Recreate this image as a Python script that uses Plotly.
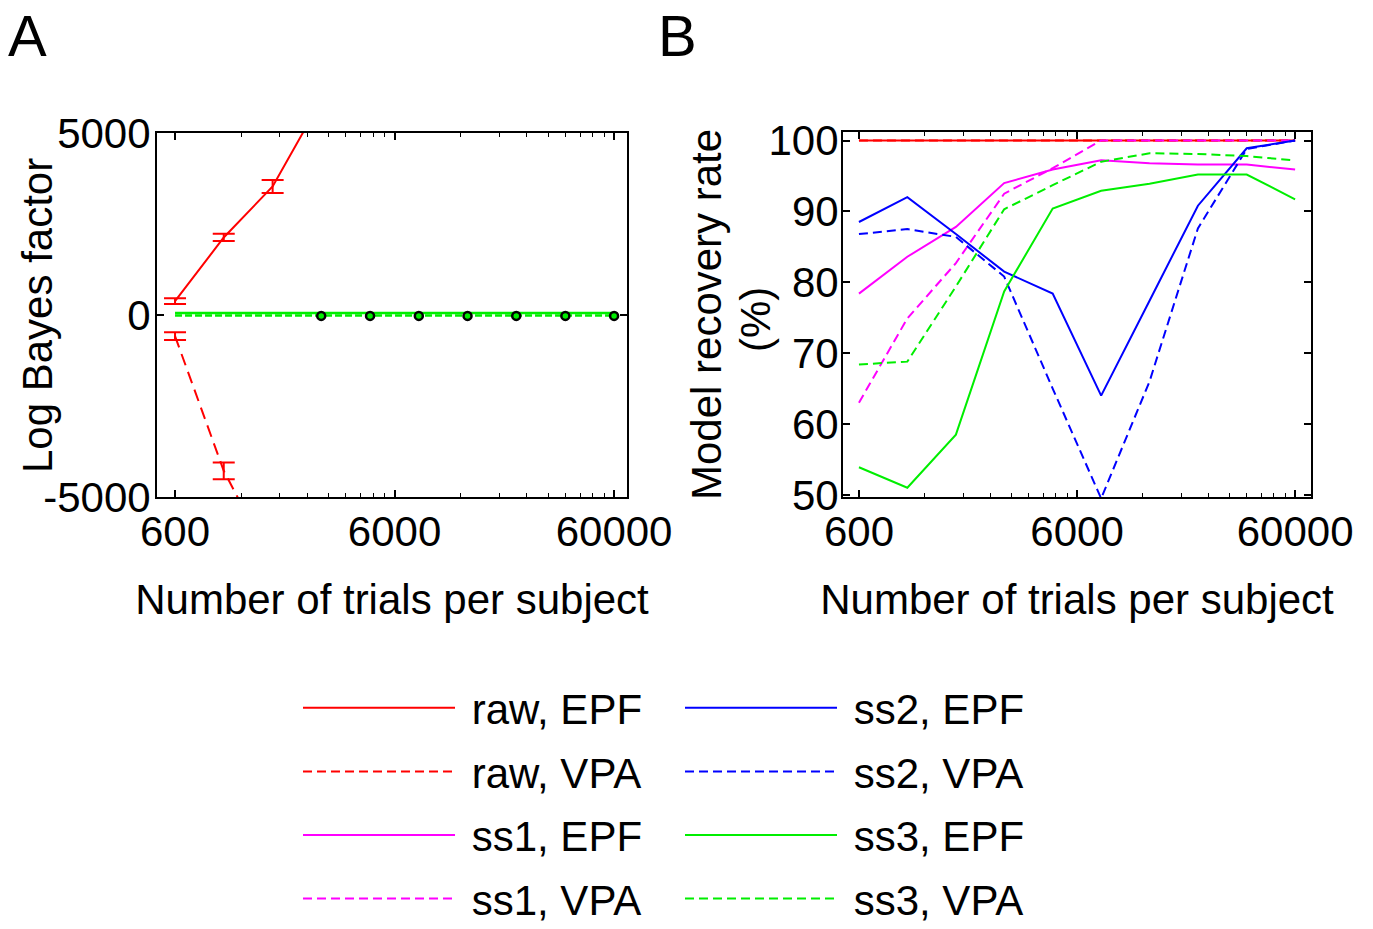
import plotly.graph_objects as go

# Number of trials per subject (shared by both panels)
trials = [600, 1000, 1670, 2780, 4640, 7740, 12900, 21500, 36000, 60000]

# Panel A: log Bayes factor (mean and error)
raw_epf_lbf = [380, 2130, 3530, 5900]
raw_epf_err = [80, 100, 180, 250]
raw_vpa_lbf = [-580, -4280, -6840]
raw_vpa_err = [105, 230, 300]
ss3_epf_lbf = [55, 55, 55, 55, 55, 55, 55, 55, 55, 55]
ss3_vpa_lbf = [-15, -15, -15, -15, -15, -15, -15, -15, -15, -15]
marked_trials = [2780, 4640, 7740, 12900, 21500, 36000, 60000]
marked_lbf = [-25, -25, -25, -25, -25, -25, -25]

# Panel B: model recovery rate (%)
raw_epf_rec = [100, 100, 100, 100, 100, 100, 100, 100, 100, 100]
raw_vpa_rec = [100, 100, 100, 100, 100, 100, 100, 100, 100, 100]
ss1_epf_rec = [78.4, 83.6, 87.8, 94.0, 95.9, 97.2, 96.8, 96.6, 96.6, 95.9]
ss1_vpa_rec = [63.0, 74.9, 82.7, 92.5, 96.1, 100, 100, 100, 100, 100]
ss2_epf_rec = [88.5, 92.0, 86.8, 81.5, 78.4, 64.0, 77.4, 90.8, 98.9, 100]
ss2_vpa_rec = [86.8, 87.5, 86.4, 80.8, 65.0, 49.5, 66.0, 87.6, 98.8, 100]
ss3_epf_rec = [53.9, 51.0, 58.5, 78.7, 90.4, 92.9, 93.9, 95.2, 95.2, 91.7]
ss3_vpa_rec = [68.4, 68.8, 79.4, 90.3, 93.7, 97.0, 98.2, 98.1, 97.8, 97.2]

x_ticks = [600, 6000, 60000]
x_ticklabels = ["600", "6000", "60000"]
x_minor = [1200, 1800, 2400, 3000, 3600, 4200, 4800, 5400,
           12000, 18000, 24000, 30000, 36000, 42000, 48000, 54000]
a_yticks = [-5000, 0, 5000]
a_yticklabels = ["-5000", "0", "5000"]
b_yticks = [50, 60, 70, 80, 90, 100]

RED, MAG, BLUE, GREEN = "#ff0000", "#ff00ff", "#0000ff", "#00ee00"
FONT = "Arial, Liberation Sans, sans-serif"
DASH_A = "12px,7px"
DASH_B = "9px,5px"
NBSP = "\u00a0"

fig = go.Figure()

# ---- Panel A ----
fig.add_trace(go.Scatter(
    x=trials[:len(raw_epf_lbf)], y=raw_epf_lbf, mode="lines",
    line=dict(color=RED, width=2),
    error_y=dict(type="data", array=raw_epf_err, color=RED, thickness=2, width=11),
    xaxis="x", yaxis="y", showlegend=False))
fig.add_trace(go.Scatter(
    x=trials[:len(raw_vpa_lbf)], y=raw_vpa_lbf, mode="lines",
    line=dict(color=RED, width=2, dash=DASH_A),
    error_y=dict(type="data", array=raw_vpa_err, color=RED, thickness=2, width=11),
    xaxis="x", yaxis="y", showlegend=False))
fig.add_trace(go.Scatter(
    x=trials, y=ss3_epf_lbf, mode="lines", line=dict(color=GREEN, width=2.6),
    xaxis="x", yaxis="y", showlegend=False))
fig.add_trace(go.Scatter(
    x=trials, y=ss3_vpa_lbf, mode="lines", line=dict(color=GREEN, width=2.4, dash="7px,3px"),
    xaxis="x", yaxis="y", showlegend=False))
fig.add_trace(go.Scatter(
    x=marked_trials, y=marked_lbf, mode="markers",
    marker=dict(size=8, color=GREEN, line=dict(color="black", width=2.5)),
    xaxis="x", yaxis="y", showlegend=False))

# ---- Panel B ----
series_b = [
    ("raw, EPF", raw_epf_rec, RED, "solid", "legend"),
    ("raw, VPA", raw_vpa_rec, RED, DASH_B, "legend"),
    ("ss1, EPF", ss1_epf_rec, MAG, "solid", "legend"),
    ("ss1, VPA", ss1_vpa_rec, MAG, DASH_B, "legend"),
    ("ss2, EPF", ss2_epf_rec, BLUE, "solid", "legend2"),
    ("ss2, VPA", ss2_vpa_rec, BLUE, DASH_B, "legend2"),
    ("ss3, EPF", ss3_epf_rec, GREEN, "solid", "legend2"),
    ("ss3, VPA", ss3_vpa_rec, GREEN, DASH_B, "legend2"),
]
for name, vals, col, dash, leg in series_b:
    fig.add_trace(go.Scatter(
        x=trials, y=vals, mode="lines", name=NBSP + name,
        line=dict(color=col, width=2, dash=dash),
        xaxis="x2", yaxis="y2", legend=leg, legendgroup=name))

W, H = 1373, 929


def px_x(p):
    return p / W


def px_y(p):
    return 1 - p / H


axis_common = dict(
    showline=True, linecolor="black", linewidth=2, mirror="allticks",
    ticks="inside", ticklen=7, tickwidth=1.5, tickcolor="black",
    showgrid=False, zeroline=False, automargin=False,
    tickfont=dict(family=FONT, size=42, color="black"),
)
minor_x = dict(tickvals=x_minor, ticks="inside", ticklen=4, tickwidth=1, tickcolor="black",
               showgrid=False)

title_font = dict(family=FONT, size=42, color="black")

fig.update_layout(
    width=W, height=H, margin=dict(l=0, r=0, t=0, b=0, autoexpand=False),
    paper_bgcolor="white", plot_bgcolor="white",
    font=dict(family=FONT, size=42, color="black"),
    xaxis=dict(axis_common, type="log", domain=[px_x(157), px_x(627)],
               range=[2.696, 4.837], tickvals=x_ticks, ticktext=x_ticklabels,
               minor=minor_x, anchor="y", ticklabelstandoff=-3,
               title=dict(text="Number of trials per subject", font=title_font, standoff=30)),
    yaxis=dict(axis_common, domain=[px_y(497), px_y(133)], range=[-5000, 5000],
               tickvals=a_yticks, ticktext=a_yticklabels, anchor="x",
               ticklabelstandoff=-4),
    xaxis2=dict(axis_common, type="log", domain=[px_x(843), px_x(1311)],
                range=[2.705, 4.851], tickvals=x_ticks, ticktext=x_ticklabels,
                minor=minor_x, anchor="y2", ticklabelstandoff=-3,
                title=dict(text="Number of trials per subject", font=title_font, standoff=30)),
    yaxis2=dict(axis_common, domain=[px_y(497), px_y(132)], range=[49.7, 101.2],
                tickvals=b_yticks, anchor="x2", ticklabelstandoff=-6),
    legend=dict(x=px_x(298), y=px_y(674), xanchor="left", yanchor="top",
                itemwidth=152, tracegroupgap=6, bgcolor="rgba(0,0,0,0)",
                font=dict(family=FONT, size=42, color="black")),
    legend2=dict(x=px_x(680), y=px_y(674), xanchor="left", yanchor="top",
                 itemwidth=152, tracegroupgap=6, bgcolor="rgba(0,0,0,0)",
                 font=dict(family=FONT, size=42, color="black")),
    annotations=[
        dict(text="A", x=px_x(28), y=px_y(36), xref="paper", yref="paper",
             xanchor="center", yanchor="middle", showarrow=False,
             font=dict(family=FONT, size=58, color="black")),
        dict(text="B", x=px_x(677), y=px_y(36), xref="paper", yref="paper",
             xanchor="center", yanchor="middle", showarrow=False,
             font=dict(family=FONT, size=58, color="black")),
        dict(text="Log Bayes factor", x=px_x(37), y=px_y(316), xref="paper", yref="paper",
             xanchor="center", yanchor="middle",
             textangle=-90, showarrow=False, font=title_font),
        dict(text="Model recovery rate", x=px_x(706), y=px_y(315), xref="paper", yref="paper",
             xanchor="center", yanchor="middle",
             textangle=-90, showarrow=False, font=title_font),
        dict(text="(%)", x=px_x(755), y=px_y(320), xref="paper", yref="paper",
             xanchor="center", yanchor="middle",
             textangle=-90, showarrow=False, font=title_font),
    ],
)

fig.write_html("out.html")
